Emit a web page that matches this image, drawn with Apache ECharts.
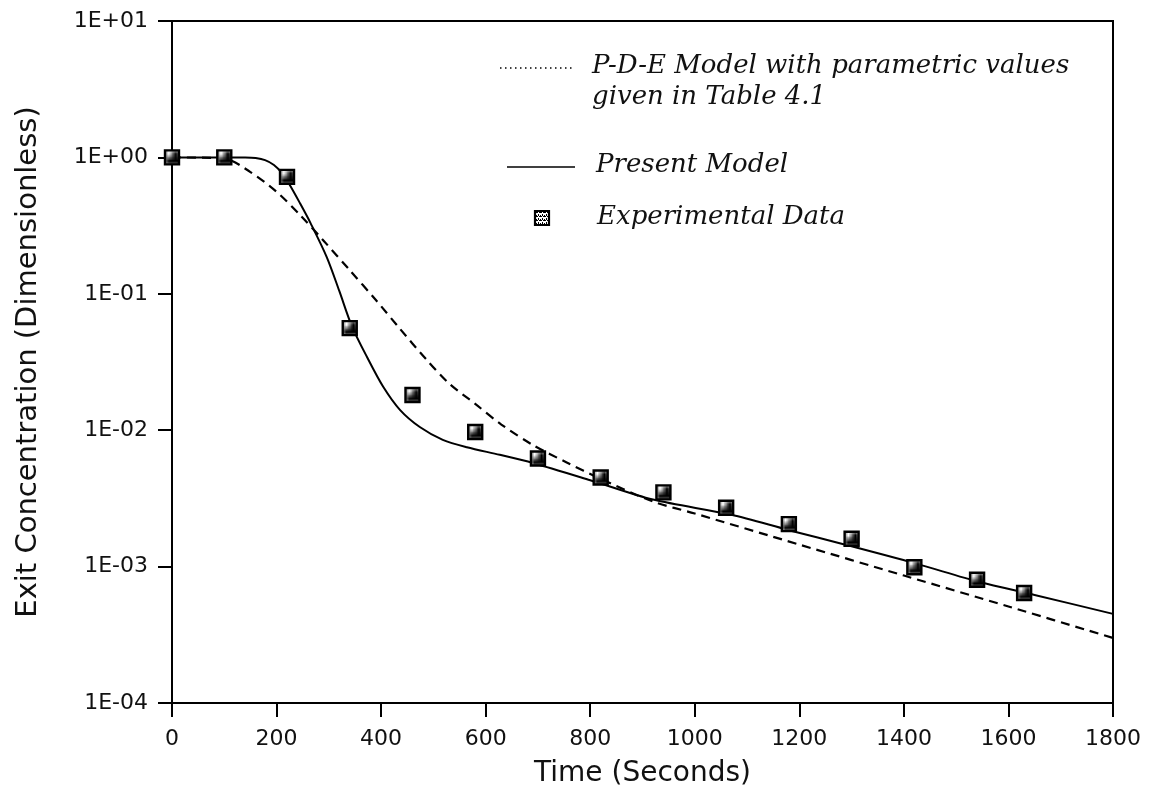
<!DOCTYPE html>
<html>
<head>
<meta charset="utf-8">
<script src="https://cdn.jsdelivr.net/npm/echarts@6/dist/echarts.min.js"></script>
<style>
html,body{margin:0;padding:0;background:#fff;}
#chart{width:1150px;height:803px;}
</style>
</head>
<body>
<div id="chart"></div>
<script>
// ---- data ----
var expTimes  = [0, 100, 220, 340, 460, 580, 700, 820, 940, 1060, 1180, 1300, 1420, 1540, 1630];
var expValues = [1.0, 1.0, 0.72, 0.056, 0.0181, 0.0097, 0.0062, 0.0045, 0.0035, 0.0027, 0.00205, 0.0016, 0.00099, 0.0008, 0.00064];

var presentTimes  = [0, 50, 100, 140, 160, 178, 195, 210, 225, 245, 265, 296, 320, 344, 373, 404, 436, 474, 518, 564, 627, 690, 800, 920, 1070, 1180, 1290, 1420, 1545, 1650, 1800];
var presentValues = [1.0, 1.0, 1.0, 0.998, 0.988, 0.955, 0.88, 0.77, 0.63, 0.46, 0.33, 0.186, 0.105, 0.058, 0.0344, 0.0208, 0.0141, 0.01055, 0.0085, 0.0075, 0.0066, 0.00575, 0.0043, 0.0031, 0.0024, 0.00185, 0.00144, 0.00106, 0.00077, 0.00062, 0.00045];

var pdeTimes  = [0, 100, 150, 200, 245, 290, 340, 390, 435, 485, 530, 580, 630, 690, 755, 820, 920, 1000, 1200, 1400, 1600, 1800];
var pdeValues = [1.0, 0.98, 0.78, 0.56, 0.378, 0.245, 0.149, 0.09, 0.056, 0.0335, 0.022, 0.0156, 0.011, 0.0078, 0.0058, 0.0044, 0.0030, 0.00245, 0.00145, 0.00086, 0.00051, 0.0003];

var xTickLabels = ['0','200','400','600','800','1000','1200','1400','1600','1800'];
var yTickLabels = {'-4':'1E-04','-3':'1E-03','-2':'1E-02','-1':'1E-01','0':'1E+00','1':'1E+01'};

var legendNames = ['P-D-E Model with parametric values\ngiven in Table 4.1', 'Present Model', 'Experimental Data'];
var xName = 'Time (Seconds)';
var yName = 'Exit Concentration (Dimensionless)';

function pairs(ts, vs){ return ts.map(function(t,i){ return [t, vs[i]]; }); }

// speckled fill for the hatched square markers
var pc = document.createElement('canvas');
pc.width = 4; pc.height = 4;
var pctx = pc.getContext('2d');
pctx.fillStyle = '#fff'; pctx.fillRect(0,0,4,4);
pctx.fillStyle = '#000';
pctx.fillRect(0,0,2,1); pctx.fillRect(2,2,1,2); pctx.fillRect(3,0,1,1); pctx.fillRect(0,3,1,1);
var markerFill = {image: pc, repeat: 'repeat'};

var chart = echarts.init(document.getElementById('chart'), null, {renderer:'canvas'});
var labelFont = {fontFamily:'DejaVu Sans', fontSize:22, color:'#111'};
var serifIt = 'italic 26px "DejaVu Serif"';

chart.setOption({
  animation:false,
  backgroundColor:'#fff',
  grid:{left:172, right:37, top:21, bottom:100, show:true, borderColor:'#000', borderWidth:2, backgroundColor:'transparent'},
  xAxis:{
    type:'value', min:0, max:1800, interval:200,
    name:xName, nameLocation:'middle', nameGap:57,
    nameTextStyle:{fontFamily:'DejaVu Sans', fontSize:28, color:'#111'},
    axisLine:{show:true, onZero:false, lineStyle:{color:'#000', width:2}},
    axisTick:{show:true, inside:false, length:14, lineStyle:{color:'#000', width:2}},
    axisLabel:Object.assign({margin:25, formatter:function(v){ return xTickLabels[Math.round(v/200)]; }}, labelFont),
    splitLine:{show:false}
  },
  yAxis:{
    type:'log', logBase:10, min:0.0001, max:10,
    name:yName, nameLocation:'middle', nameGap:129, nameRotate:90,
    nameTextStyle:{fontFamily:'DejaVu Sans', fontSize:29, color:'#111'},
    axisLine:{show:true, lineStyle:{color:'#000', width:2}},
    axisTick:{show:true, inside:false, length:14, lineStyle:{color:'#000', width:2}},
    axisLabel:Object.assign({margin:24, formatter:function(v){ return yTickLabels[String(Math.round(Math.log10(v)))]; }}, labelFont),
    minorTick:{show:false},
    splitLine:{show:false}
  },
  series:[
    {
      name:legendNames[0], type:'line', data:pairs(pdeTimes, pdeValues),
      smooth:0.3, showSymbol:false, symbol:'none',
      lineStyle:{color:'#000', width:2.2, type:[9,6]}, z:2
    },
    {
      name:legendNames[1], type:'line', data:pairs(presentTimes, presentValues),
      smooth:0.3, showSymbol:false, symbol:'none',
      lineStyle:{color:'#000', width:2}, z:3
    },
    {
      name:legendNames[2], type:'scatter', data:pairs(expTimes, expValues),
      symbol:'rect', symbolSize:14,
      itemStyle:{color:markerFill, borderColor:'#000', borderWidth:2.4, opacity:1}, z:4
    }
  ],
  graphic:[
    {type:'line', shape:{x1:500, y1:68, x2:573, y2:68}, style:{stroke:'#000', lineWidth:1.3, lineDash:[1.5,3.5]}},
    {type:'text', left:592, top:51, style:{text:legendNames[0], font:serifIt, fill:'#111', lineHeight:31}},
    {type:'line', shape:{x1:507, y1:167, x2:575, y2:167}, style:{stroke:'#000', lineWidth:1.5}},
    {type:'text', left:596, top:152, style:{text:legendNames[1], font:serifIt, fill:'#111'}},
    {type:'rect', shape:{x:535, y:211, width:14, height:14}, style:{fill:markerFill, stroke:'#000', lineWidth:2.2}},
    {type:'text', left:597, top:204, style:{text:legendNames[2], font:serifIt, fill:'#111'}}
  ]
});
</script>
</body>
</html>
